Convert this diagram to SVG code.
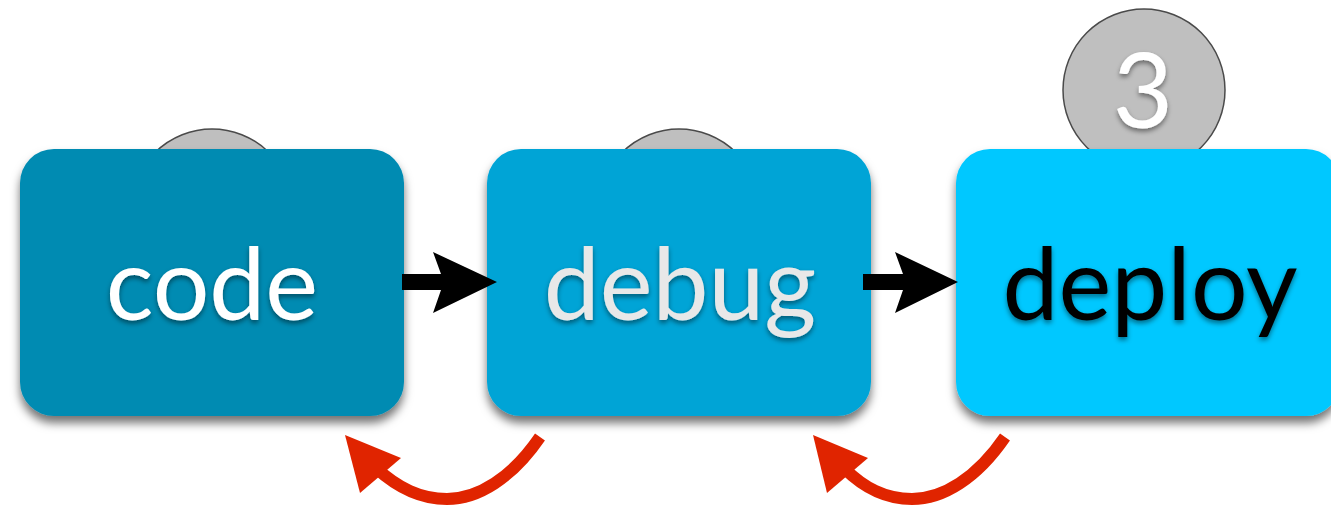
<svg xmlns="http://www.w3.org/2000/svg" width="1331" height="513" viewBox="0 0 1331 513">
  <defs>
    <filter id="boxShadow" x="-10%" y="-10%" width="120%" height="130%">
      <feDropShadow dx="0" dy="7" stdDeviation="5" flood-color="#000" flood-opacity="0.55"/>
    </filter>
    <filter id="textShadow" x="-10%" y="-20%" width="120%" height="140%">
      <feDropShadow dx="0" dy="3" stdDeviation="2.5" flood-color="#000" flood-opacity="0.45"/>
    </filter>
  </defs>
  <style>
    .badge { fill: #bfbfbf; stroke: #4a4a4a; stroke-width: 1.5; }
    .box { filter: url(#boxShadow); }
    .label { font-family: Lato, "Open Sans", sans-serif; font-size: 100px; text-anchor: middle; filter: url(#textShadow); }
    .num { font-family: Lato, "Open Sans", sans-serif; font-size: 104px; text-anchor: middle; fill: #ffffff; filter: url(#textShadow); }
    .flow { fill: #000000; }
    .back { fill: none; stroke: #e02400; stroke-width: 12; }
    .backHead { fill: #e02400; }
  </style>

  <rect width="1331" height="513" fill="#ffffff"/>

  <g id="badge1">
    <circle class="badge" cx="212" cy="210" r="81"/>
  </g>
  <g id="badge2">
    <circle class="badge" cx="679" cy="210" r="81"/>
  </g>
  <g id="badge3">
    <circle class="badge" cx="1144" cy="90" r="81"/>
    <text class="num" x="1143" y="128">3</text>
  </g>

  <g id="code">
    <rect class="box" x="20" y="149" width="384" height="267" rx="34" fill="#008bb2"/>
    <text class="label" x="212" y="320" fill="#ffffff">code</text>
  </g>
  <g id="debug">
    <rect class="box" x="487" y="149" width="384" height="267" rx="34" fill="#00a4d6"/>
    <text class="label" x="680" y="320" fill="#e8e8e8">debug</text>
  </g>
  <g id="deploy">
    <rect class="box" x="956" y="149" width="384" height="267" rx="34" fill="#00c8ff"/>
    <text class="label" x="1150" y="320" fill="#000000">deploy</text>
  </g>

  <g id="connectors">
    <polygon class="flow" points="402,274 441,274 433,252 497,282 433,313 441,290 402,290"/>
    <polygon class="flow" points="863,274 903,274 895,252 958,282 895,313 903,290 863,290"/>
    <path class="back" d="M540,437 C512,478 478,499 447,499 C420,499 398,488 376,468"/>
    <polygon class="backHead" points="345,435 401,458 360,493"/>
    <path class="back" d="M1005,437 C977,478 943,499 912,499 C885,499 864,488 844,468"/>
    <polygon class="backHead" points="813,435 868,458 827,493"/>
  </g>
</svg>
